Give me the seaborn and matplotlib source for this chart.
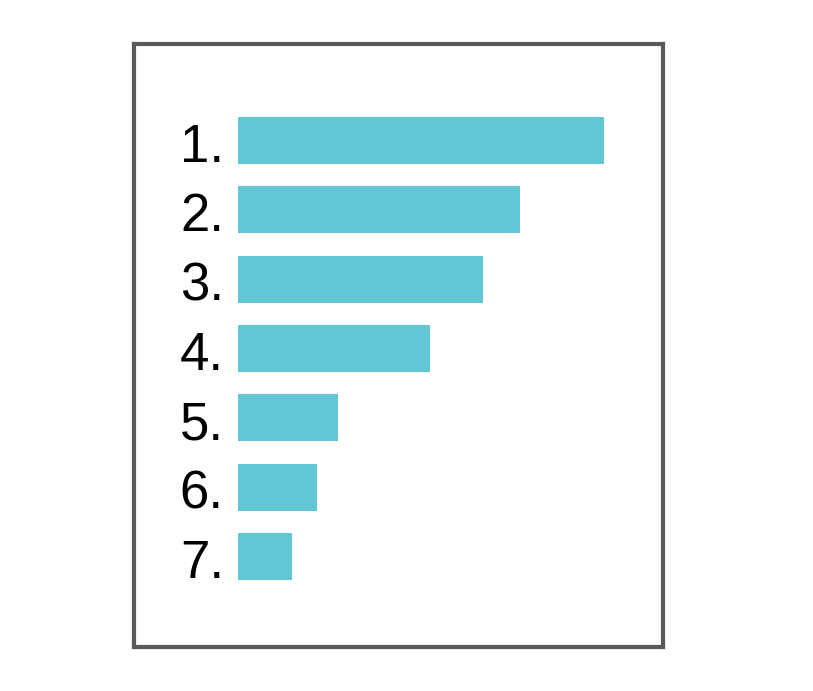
import matplotlib
matplotlib.use("Agg")
import matplotlib.pyplot as plt
import pandas as pd
import seaborn as sns

# ranked items and bar lengths (pixel units)
ranks = ["1.", "2.", "3.", "4.", "5.", "6.", "7."]
values = [366, 282, 245, 192, 100, 79, 54]

bar_color = "#62C7D5"
frame_color = "#5a5a5a"

sns.set_theme(style="white")
plt.rcParams["font.family"] = ["Liberation Sans", "DejaVu Sans"]

df = pd.DataFrame({"rank": ranks, "value": values})

fig = plt.figure(figsize=(8.13, 6.91), dpi=100)
W, H = 813, 691
# axes box doubles as the grey frame
ax = fig.add_axes([134 / W, 1 - 647 / H, (663 - 134) / W, (647 - 44) / H])

sns.barplot(data=df, x="value", y="rank", orient="h", color=bar_color,
            saturation=1, width=0.68, linewidth=0, ax=ax)

for i, lab in enumerate(ranks):
    ax.text(-14, i + 0.31, lab, ha="right", va="baseline",
            fontsize=38, color="black")

ax.set_xlim(-104, 425)
ax.set_ylim(7.305, -1.392)
ax.set_xticks([])
ax.set_yticks([])
ax.set_xlabel("")
ax.set_ylabel("")
for sp in ax.spines.values():
    sp.set_visible(True)
    sp.set_color(frame_color)
    sp.set_linewidth(3)

fig.savefig("out.png", dpi=100, facecolor="white")
